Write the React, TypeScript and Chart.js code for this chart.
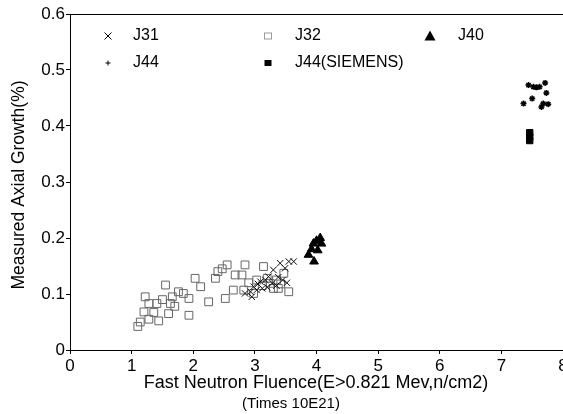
import React, { useEffect, useRef } from 'react';
import { Chart, registerables } from 'chart.js';

Chart.register(...registerables);

// ---- data ----
const xTickValues = [0, 1, 2, 3, 4, 5, 6, 7, 8];
const yTickValues = [0, 0.1, 0.2, 0.3, 0.4, 0.5, 0.6];

const seriesNames = ['J31', 'J32', 'J40', 'J44', 'J44(SIEMENS)'];

const j31X = [2.84, 2.93, 2.98, 3.03, 3.09, 3.17, 3.22, 3.28, 3.30, 3.41, 3.49, 3.55, 3.12, 3.35, 3.45, 3.05, 2.95, 3.20, 3.38, 3.52, 3.63];
const j31Y = [0.101, 0.104, 0.113, 0.107, 0.122, 0.125, 0.131, 0.119, 0.143, 0.155, 0.146, 0.158, 0.110, 0.115, 0.125, 0.118, 0.095, 0.112, 0.130, 0.120, 0.158];

const j32X = [1.14, 1.28, 1.44, 1.36, 1.20, 1.28, 1.22, 1.41, 1.50, 1.55, 1.63, 1.66, 1.76, 1.84, 1.93, 1.93, 1.70, 2.03, 2.12, 2.25, 2.36, 2.40, 2.47, 2.55, 2.52, 2.68, 2.79, 2.84, 2.65, 2.82, 2.98, 3.03, 3.14, 3.25, 3.30, 3.38, 3.47, 3.55, 3.12, 3.20, 3.35, 2.90, 3.42, 1.60, 1.10];
const j32Y = [0.050, 0.055, 0.052, 0.067, 0.068, 0.083, 0.095, 0.083, 0.090, 0.116, 0.083, 0.095, 0.104, 0.101, 0.092, 0.062, 0.078, 0.128, 0.113, 0.086, 0.128, 0.140, 0.145, 0.152, 0.092, 0.134, 0.134, 0.152, 0.107, 0.107, 0.101, 0.125, 0.149, 0.119, 0.110, 0.110, 0.137, 0.104, 0.115, 0.128, 0.125, 0.120, 0.118, 0.065, 0.042];

const j40X = [3.87, 3.92, 3.95, 4.00, 4.06, 4.08, 4.02, 3.96];
const j40Y = [0.170, 0.180, 0.190, 0.195, 0.200, 0.190, 0.178, 0.158];

const j44X = [7.44, 7.52, 7.57, 7.71, 7.73, 7.50, 7.36, 7.68, 7.76, 7.65, 7.62];
const j44Y = [0.473, 0.470, 0.469, 0.477, 0.459, 0.449, 0.440, 0.440, 0.439, 0.434, 0.470];

const siemensX = [7.46, 7.46, 7.46];
const siemensY = [0.388, 0.381, 0.374];

const xTitle = 'Fast Neutron Fluence(E>0.821 Mev,n/cm2)';
const xSubTitle = '(Times 10E21)';
const yTitle = 'Measured Axial Growth(%)';

const FONT = '"Liberation Sans", Arial, Helvetica, sans-serif';

const zip = (xs: number[], ys: number[]) => xs.map((x, i) => ({ x, y: ys[i] }));

function drawMarker(ctx: CanvasRenderingContext2D, kind: number, cx: number, cy: number) {
  ctx.save();
  ctx.strokeStyle = '#000';
  ctx.fillStyle = '#000';
  ctx.lineWidth = 1;
  if (kind === 0) {
    const s = 3.5;
    ctx.beginPath();
    ctx.moveTo(cx - s, cy - s); ctx.lineTo(cx + s, cy + s);
    ctx.moveTo(cx + s, cy - s); ctx.lineTo(cx - s, cy + s);
    ctx.stroke();
  } else if (kind === 1) {
    ctx.strokeStyle = '#999';
    ctx.strokeRect(cx - 3.5, cy - 3, 7, 6);
  } else if (kind === 2) {
    ctx.beginPath();
    ctx.moveTo(cx, cy - 5.5); ctx.lineTo(cx + 5.5, cy + 4.5); ctx.lineTo(cx - 5.5, cy + 4.5);
    ctx.closePath();
    ctx.fill();
  } else if (kind === 3) {
    ctx.beginPath();
    ctx.moveTo(cx - 2.5, cy); ctx.lineTo(cx + 2.5, cy);
    ctx.moveTo(cx, cy - 2.5); ctx.lineTo(cx, cy + 2.5);
    ctx.stroke();
  } else {
    ctx.fillRect(cx - 3.5, cy - 3, 7, 6);
  }
  ctx.restore();
}

const decorPlugin = {
  id: 'decor',
  afterDraw(chart: any) {
    const { ctx, chartArea } = chart;
    ctx.save();
    // top border
    ctx.strokeStyle = '#000';
    ctx.lineWidth = 1;
    ctx.beginPath();
    ctx.moveTo(chartArea.left, chartArea.top + 0.5);
    ctx.lineTo(chartArea.right, chartArea.top + 0.5);
    ctx.stroke();

    // legend
    ctx.fillStyle = '#000';
    ctx.font = `16px ${FONT}`;
    ctx.textBaseline = 'middle';
    ctx.textAlign = 'left';
    const legendPos = [
      [108, 133, 36],
      [268, 295, 36],
      [430, 458, 36],
      [108, 133, 63],
      [268, 295, 63],
    ];
    seriesNames.forEach((name, i) => {
      const [mx, tx, y] = legendPos[i];
      drawMarker(ctx, i, mx, y);
      ctx.fillStyle = '#000';
      ctx.fillText(name, tx, y);
    });

    // axis titles
    ctx.font = `18px ${FONT}`;
    ctx.textAlign = 'center';
    ctx.textBaseline = 'middle';
    ctx.fillText(xTitle, 316, 383);
    ctx.font = `15px ${FONT}`;
    ctx.fillText(xSubTitle, 291, 404);

    ctx.translate(19, 185);
    ctx.rotate(-Math.PI / 2);
    ctx.font = `17.5px ${FONT}`;
    ctx.fillText(yTitle, 0, 0);
    ctx.restore();
  },
};

export default function App() {
  const ref = useRef<HTMLCanvasElement | null>(null);

  useEffect(() => {
    document.body.style.margin = '0';
    const canvas = ref.current!;
    const chart = new Chart(canvas, {
      type: 'scatter',
      data: {
        datasets: [
          {
            label: seriesNames[0],
            data: zip(j31X, j31Y),
            pointStyle: 'crossRot',
            pointRadius: 4.5,
            borderColor: '#111',
            backgroundColor: '#111',
            pointBorderWidth: 1,
          },
          {
            label: seriesNames[1],
            data: zip(j32X, j32Y),
            pointStyle: 'rect',
            pointRadius: 5.5,
            borderColor: '#666',
            backgroundColor: 'rgba(0,0,0,0)',
            pointBorderWidth: 1,
          },
          {
            label: seriesNames[2],
            data: zip(j40X, j40Y),
            pointStyle: 'triangle',
            pointRadius: 5,
            borderColor: '#000',
            backgroundColor: '#000',
            pointBorderWidth: 1,
          },
          {
            label: seriesNames[3],
            data: zip(j44X, j44Y),
            pointStyle: 'star',
            pointRadius: 3,
            borderColor: '#000',
            backgroundColor: '#000',
            pointBorderWidth: 1.5,
          },
          {
            label: seriesNames[4],
            data: zip(siemensX, siemensY),
            pointStyle: 'rect',
            pointRadius: 4.5,
            borderColor: '#000',
            backgroundColor: '#000',
            pointBorderWidth: 1,
          },
        ],
      },
      options: {
        responsive: false,
        animation: false,
        events: [],
        layout: { padding: { top: 14, right: 0, left: 0, bottom: 0 }, autoPadding: false },
        plugins: { legend: { display: false }, tooltip: { enabled: false } },
        scales: {
          x: {
            type: 'linear',
            min: xTickValues[0],
            max: xTickValues[xTickValues.length - 1],
            afterBuildTicks: (scale: any) => {
              scale.ticks = xTickValues.map((v) => ({ value: v }));
            },
            afterFit: (scale: any) => {
              scale.height = 64;
              scale.paddingLeft = 0;
              scale.paddingRight = 0;
            },
            grid: { display: true, drawOnChartArea: false, drawTicks: true, tickLength: 4, color: '#000' },
            border: { display: true, color: '#000', width: 1 },
            ticks: {
              color: '#000',
              padding: 2,
              maxRotation: 0,
              autoSkip: false,
              font: { family: FONT, size: 17 },
              callback: (v: any) => String(v),
            },
          },
          y: {
            type: 'linear',
            min: yTickValues[0],
            max: yTickValues[yTickValues.length - 1],
            afterBuildTicks: (scale: any) => {
              scale.ticks = yTickValues.map((v) => ({ value: v }));
            },
            afterFit: (scale: any) => {
              scale.width = 70;
              scale.paddingTop = 0;
              scale.paddingBottom = 0;
            },
            grid: { display: true, drawOnChartArea: false, drawTicks: true, tickLength: 4, color: '#000' },
            border: { display: true, color: '#000', width: 1 },
            ticks: {
              color: '#000',
              padding: 1,
              autoSkip: false,
              font: { family: FONT, size: 17 },
              callback: (v: any) => (v === 0 ? '0' : Number(v).toFixed(1)),
            },
          },
        },
      },
      plugins: [decorPlugin],
    } as any);
    return () => chart.destroy();
  }, []);

  return <canvas ref={ref} width={563} height={414} style={{ display: 'block' }} />;
}
